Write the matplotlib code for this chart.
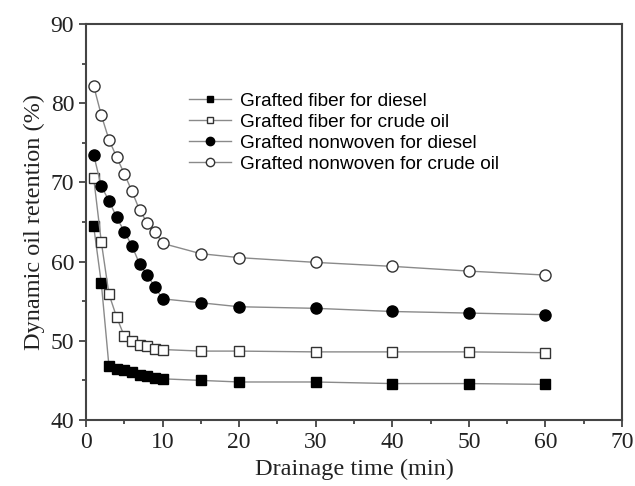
import matplotlib
matplotlib.use("Agg")
from matplotlib import pyplot as plt
from matplotlib.ticker import MultipleLocator

# drainage time (min)
t = [1, 2, 3, 4, 5, 6, 7, 8, 9, 10, 15, 20, 30, 40, 50, 60]

fiber_diesel = [64.5, 57.3, 46.8, 46.5, 46.3, 46.0, 45.7, 45.5, 45.3, 45.2,
                45.0, 44.8, 44.8, 44.6, 44.6, 44.5]
fiber_crude = [70.6, 62.5, 55.9, 53.0, 50.6, 50.0, 49.5, 49.3, 49.0, 48.9,
               48.7, 48.7, 48.6, 48.6, 48.6, 48.5]
nonwoven_diesel = [73.5, 69.5, 67.7, 65.6, 63.8, 62.0, 59.7, 58.3, 56.8, 55.3,
                   54.8, 54.3, 54.1, 53.7, 53.5, 53.3]
nonwoven_crude = [82.2, 78.5, 75.4, 73.2, 71.1, 68.9, 66.5, 64.9, 63.8, 62.3,
                  61.0, 60.5, 59.9, 59.4, 58.8, 58.3]

labels = ["Grafted fiber for diesel", "Grafted fiber for crude oil",
          "Grafted nonwoven for diesel", "Grafted nonwoven for crude oil"]

fig = plt.figure(figsize=(6.35, 4.86), dpi=100)
ax = fig.add_axes([0.1354, 0.1358, 0.8441, 0.8148])

lc = "#8a8a8a"
ax.plot(t, fiber_diesel, "-s", color=lc, lw=1, ms=6.5, mfc="black", mec="black", label=labels[0])
ax.plot(t, fiber_crude, "-s", color=lc, lw=1, ms=6.5, mfc="white", mec="#333333", mew=1, label=labels[1])
ax.plot(t, nonwoven_diesel, "-o", color=lc, lw=1, ms=8, mfc="black", mec="black", label=labels[2])
ax.plot(t, nonwoven_crude, "-o", color=lc, lw=1, ms=8, mfc="white", mec="#333333", mew=1, label=labels[3])

ax.set_xlim(0, 70)
ax.set_ylim(40, 90)
ax.xaxis.set_major_locator(MultipleLocator(10))
ax.xaxis.set_minor_locator(MultipleLocator(5))
ax.yaxis.set_major_locator(MultipleLocator(10))
ax.yaxis.set_minor_locator(MultipleLocator(5))
ax.tick_params(which="both", direction="out", top=False, right=False, color="#333333")
ax.tick_params(which="major", length=5, width=1.2, labelsize=17, labelcolor="#222222")
ax.tick_params(which="minor", length=3, width=1.2)
for lab in ax.get_xticklabels() + ax.get_yticklabels():
    lab.set_fontfamily("Liberation Serif")
for s in ax.spines.values():
    s.set_color("#444444")
    s.set_linewidth(1.5)

ax.set_xlabel("Drainage time (min)", fontsize=17.5, family="Liberation Serif", color="#222222", labelpad=4)
ax.set_ylabel("Dynamic oil retention (%)", fontsize=17.5, family="Liberation Serif", color="#222222", labelpad=4)

leg = ax.legend(loc="upper left", bbox_to_anchor=(0.16, 0.87), frameon=False,
                prop={"family": "Liberation Sans", "size": 13.7}, handlelength=2.2,
                handletextpad=0.5, labelspacing=0.19, markerscale=0.75)

fig.savefig("out.png", dpi=100)
